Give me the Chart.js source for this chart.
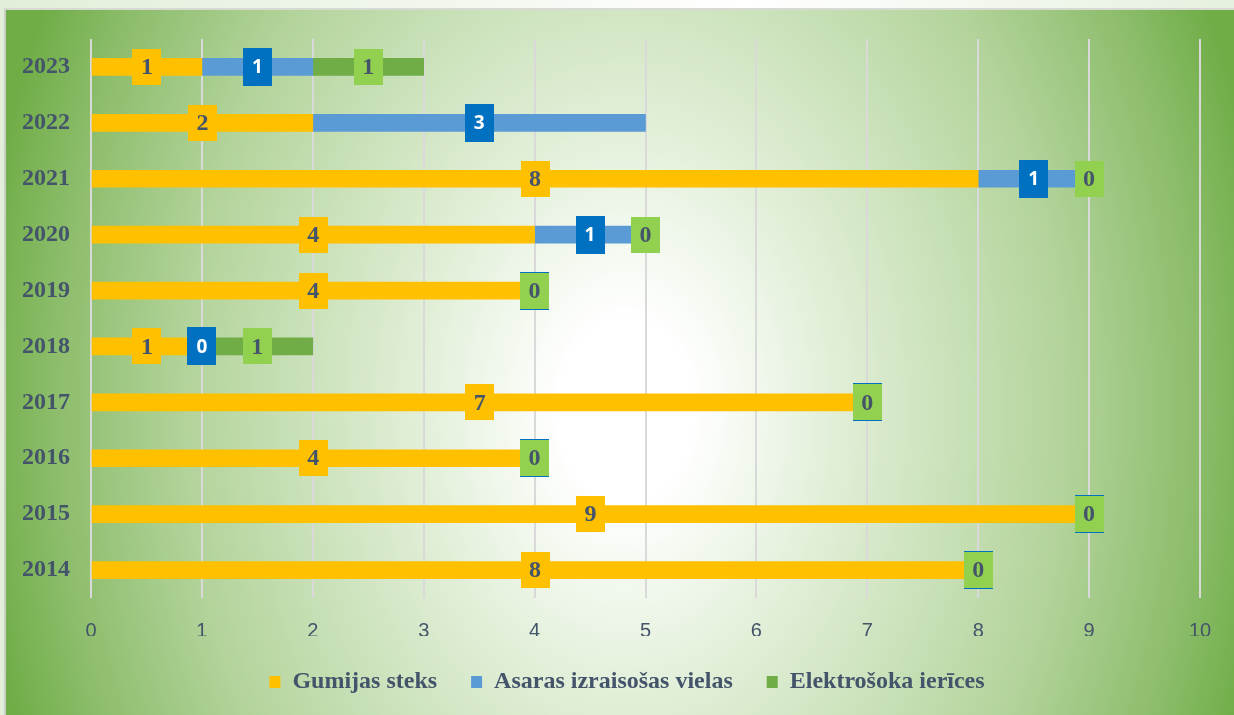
<!DOCTYPE html>
<html>
<head>
<meta charset="utf-8">
<script src="https://cdn.jsdelivr.net/npm/chart.js@4"></script>
<style>
  html, body { margin: 0; padding: 0; }
  body {
    width: 1234px; height: 715px; overflow: hidden; position: relative;
    background: linear-gradient(90deg, #e2eed9 0%, #f4f8f0 40%, #ffffff 60%, #e6f0de 100%);
  }
  #frame {
    position: absolute; left: 4px; top: 8px; width: 1230px; height: 707px;
    border-left: 2px solid #c9cfc4; border-top: 2px solid #d6dad2;
    background: radial-gradient(ellipse 650px 900px at 620px 400px, #ffffff 0%, #ffffff 10%, #e0eed6 33%, #b2d39a 68%, #8cbd6b 88%, #70ad47 100%);
  }
  #chart { position: absolute; left: 0; top: 0; }
</style>
</head>
<body>
<div id="frame"></div>
<canvas id="chart" width="1234" height="715"></canvas>
<script>
// Chart data
const years = ['2023', '2022', '2021', '2020', '2019', '2018', '2017', '2016', '2015', '2014'];
const rubberBaton = [1, 2, 8, 4, 4, 1, 7, 4, 9, 8];
const tearGas = [1, 3, 1, 1, 0, 0, 0, 0, 0, 0];
const stunGuns = [1, null, 0, 0, 0, 1, 0, 0, 0, 0];
const seriesNames = ['Gumijas steks', 'Asaras izraisošas vielas', 'Elektrošoka ierīces'];
const xTicks = [0, 1, 2, 3, 4, 5, 6, 7, 8, 9, 10];

// Styles
const textColor = '#44546a';
const barColors = ['#ffc000', '#5b9bd5', '#70ad47'];
const labelStyles = [
  { bg: '#ffc000', color: textColor, font: 'bold 24px "Liberation Serif", "Times New Roman", serif', w: 29, h: 36 },
  { bg: '#0070c0', color: '#ffffff', font: 'bold 19px "Open Sans", "Liberation Sans", sans-serif', w: 29, h: 38 },
  { bg: '#92d050', color: textColor, font: 'bold 24px "Liberation Serif", "Times New Roman", serif', w: 29, h: 36 }
];

// Boxed value labels centred on each segment
const boxLabels = {
  id: 'boxLabels',
  afterDatasetsDraw(chart) {
    const ctx = chart.ctx;
    chart.data.datasets.forEach((ds, i) => {
      const meta = chart.getDatasetMeta(i);
      const st = labelStyles[i];
      meta.data.forEach((bar, j) => {
        const v = ds.data[j];
        if (v === null || v === undefined) return;
        const p = bar.getProps(['x', 'y', 'base'], true);
        const cx = (p.x + p.base) / 2;
        ctx.save();
        ctx.fillStyle = st.bg;
        ctx.fillRect(Math.round(cx - st.w / 2), Math.round(p.y - st.h / 2), st.w, st.h);
        ctx.fillStyle = st.color;
        ctx.font = st.font;
        ctx.textAlign = 'center';
        ctx.textBaseline = 'middle';
        ctx.fillText(String(v), cx, p.y + 1);
        ctx.restore();
      });
    });
  }
};

// Shift the legend row to where the reference has it
const legendShift = {
  id: 'legendShift',
  afterLayout(chart) {
    if (chart.legend) {
      chart.legend.left += 27;
      chart.legend.right += 27;
    }
  }
};

const ctx = document.getElementById('chart').getContext('2d');
const chart = new Chart(ctx, {
  type: 'bar',
  data: {
    labels: years,
    datasets: [rubberBaton, tearGas, stunGuns].map((d, i) => ({
      label: seriesNames[i],
      data: d,
      backgroundColor: barColors[i],
      borderWidth: 0,
      barThickness: 17
    }))
  },
  options: {
    indexAxis: 'y',
    responsive: false,
    animation: false,
    layout: { padding: { top: 39, right: 34, left: 0, bottom: 11 } },
    plugins: {
      legend: {
        position: 'bottom',
        labels: {
          boxWidth: 11,
          boxHeight: 12,
          padding: 34,
          color: textColor,
          font: { family: '"Liberation Serif", "Times New Roman", serif', size: 24, weight: 'bold' }
        }
      },
      tooltip: { enabled: false }
    },
    scales: {
      x: {
        stacked: true,
        min: 0,
        max: 10,
        afterBuildTicks: (scale) => { scale.ticks = xTicks.map(v => ({ value: v })); },
        afterFit: (scale) => { scale.height = 38; },
        grid: { color: '#d9d9d9', lineWidth: 2, drawTicks: false },
        border: { display: false },
        ticks: {
          padding: 21,
          color: textColor,
          font: { family: '"Liberation Sans", "Open Sans", sans-serif', size: 20 }
        }
      },
      y: {
        stacked: true,
        afterFit: (scale) => { scale.width = 91; },
        grid: { display: false },
        border: { display: false },
        ticks: {
          padding: 13,
          color: textColor,
          font: { family: '"Liberation Serif", "Times New Roman", serif', size: 24, weight: 'bold' }
        }
      }
    }
  },
  plugins: [boxLabels, legendShift]
});
</script>
</body>
</html>
